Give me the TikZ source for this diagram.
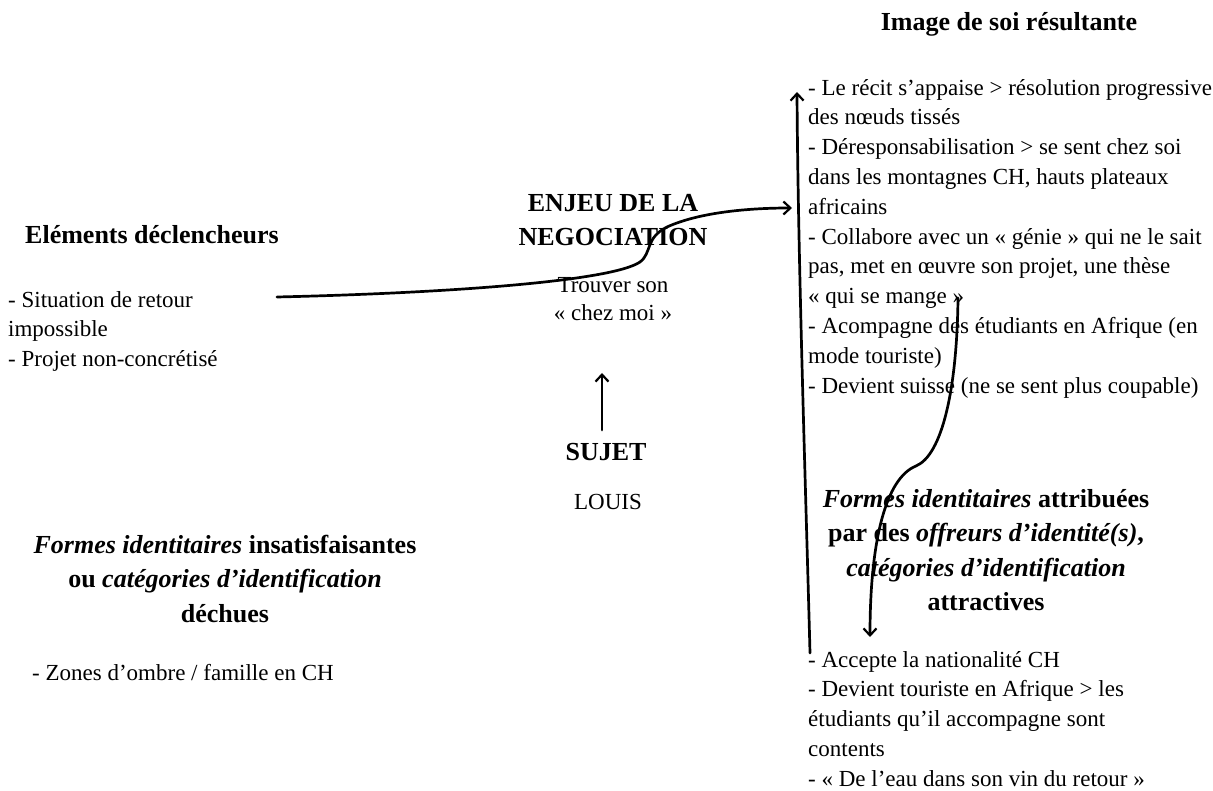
\documentclass[tikz,border=0pt]{standalone}
\usepackage{fontspec}
\setmainfont{Liberation Serif}
\usetikzlibrary{arrows.meta}
\begin{document}
\begin{tikzpicture}[x=1pt,y=-1pt,
  head/.style={font=\fontsize{26}{34.5}\selectfont\bfseries, align=center, inner sep=0pt},
  body/.style={font=\fontsize{23}{29.8}\selectfont, align=left, inner sep=0pt},
  bodyc/.style={font=\fontsize{23}{28}\selectfont, align=center, inner sep=0pt},
  arr/.style={line width=2.7pt, line cap=round, -{Straight Barb[length=7pt,width=13pt,line width=2.2pt]}}]
\useasboundingbox (0,0) rectangle (1213,791);

% titles and texts
\node[head] (title) at (1009,24) {Image de soi résultante};
\node[body, anchor=north west] (reslist) at (808,79) {- Le récit s’appaise > résolution progressive\\
des nœuds tissés\\
- Déresponsabilisation > se sent chez soi\\
dans les montagnes CH, hauts plateaux\\
africains\\
- Collabore avec un « génie » qui ne le sait\\
pas, met en œuvre son projet, une thèse\\
« qui se mange »\\
- Acompagne des étudiants en Afrique (en\\
mode touriste)\\
- Devient suisse (ne se sent plus coupable)};

\node[head, anchor=west] (trig) at (25,235) {Eléments déclencheurs};
\node[body, anchor=north west] (triglist) at (8,291) {- Situation de retour\\
impossible\\
- Projet non-concrétisé};

\node[head] (enjeu) at (613,220) {ENJEU DE LA\\NEGOCIATION};
\node[bodyc] (trouver) at (613,299) {Trouver son\\« chez moi »};
\node[head] (sujet) at (606,452) {SUJET};
\node[bodyc] (louis) at (608,502) {LOUIS};

\node[head] (insat) at (225,579) {\textit{Formes identitaires} insatisfaisantes\\
ou \textit{catégories d’identification}\\
déchues};
\node[body, anchor=west] (zones) at (32,673) {- Zones d’ombre / famille en CH};

\node[head] (attr) at (986,550) {\textit{Formes identitaires} attribuées\\
par des \textit{offreurs d’identité(s)},\\
\textit{catégories d’identification}\\
attractives};
\node[body, anchor=north west] (acclist) at (808,651) {- Accepte la nationalité CH\\
- Devient touriste en Afrique > les\\
étudiants qu’il accompagne sont\\
contents\\
- « De l’eau dans son vin du retour »};

% connector end points
\coordinate (hstart) at (277,297);
\coordinate (hend) at (792,208);
\coordinate (vbot) at (810,653);
\coordinate (vtop) at (797,92);
\coordinate (upbot) at (602,430);
\coordinate (uptop) at (602,373);
\coordinate (ctop) at (958,298);
\coordinate (cbot) at (870,637);

% connectors
\draw[arr] (hstart) .. controls (450,293) and (612,281) .. (640,262)
  .. controls (652,253) and (645,238) .. (667,227)
  .. controls (700,212) and (750,208) .. (hend);
\draw[arr] (vbot) .. controls (806,500) and (798,260) .. (vtop);
\draw[arr] (upbot) -- (uptop);
\draw[arr] (ctop) .. controls (957,390) and (942,455) .. (916,466)
  .. controls (886,478) and (870,540) .. (cbot);
\end{tikzpicture}
\end{document}
